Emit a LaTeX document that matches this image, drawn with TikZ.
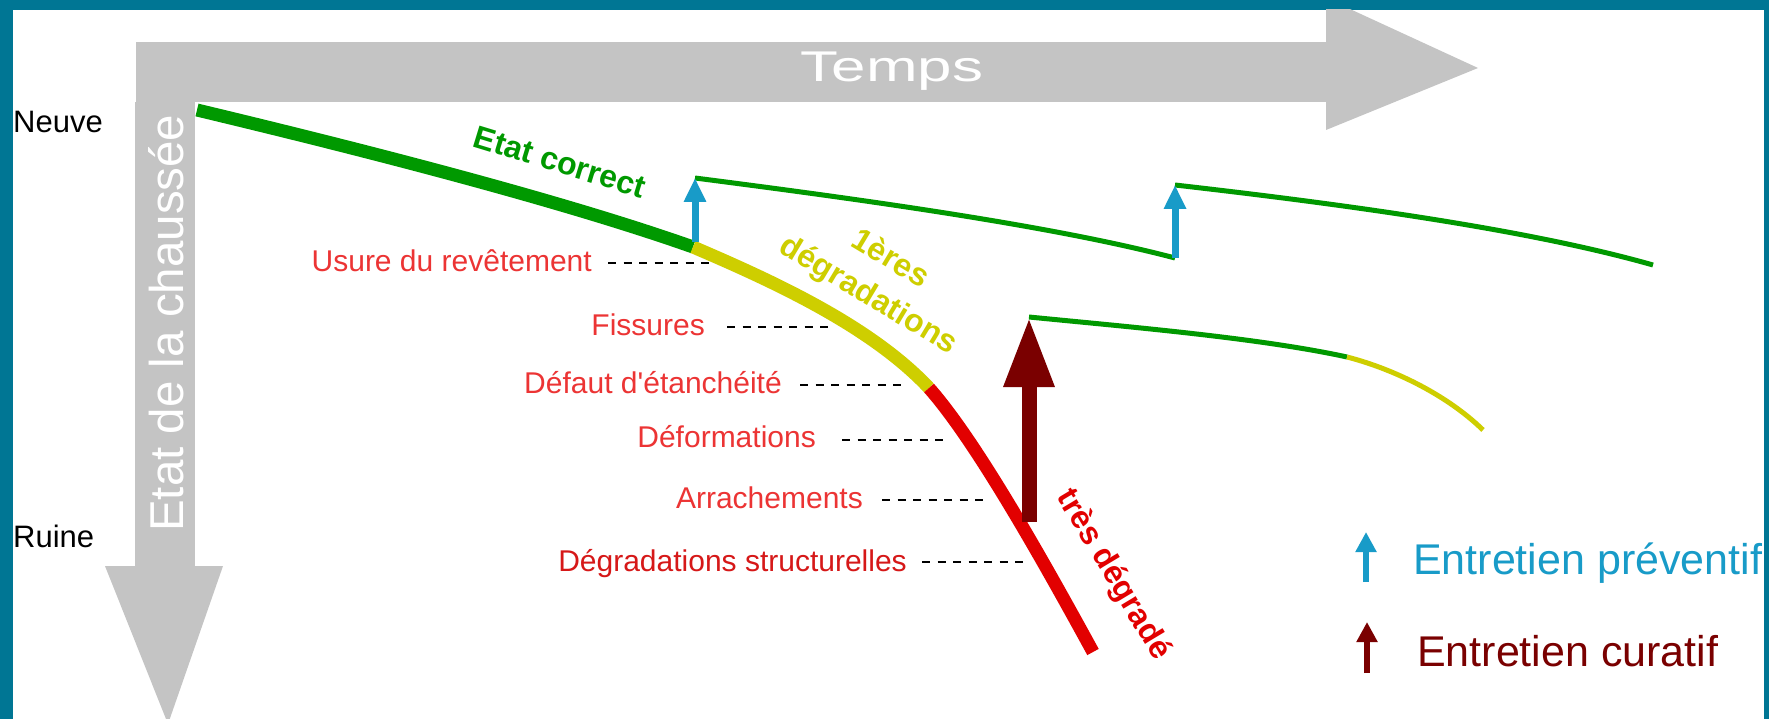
\documentclass[tikz,border=0pt]{standalone}
\usepackage{fontspec}
\setmainfont{Liberation Sans}[Ligatures=TeXOff]
\usetikzlibrary{arrows.meta}
\definecolor{teal0}{RGB}{0,118,148}
\definecolor{axisgray}{RGB}{196,196,196}
\definecolor{okgreen}{RGB}{0,153,0}
\definecolor{warnyellow}{RGB}{206,206,0}
\definecolor{badred}{RGB}{226,0,0}
\definecolor{lblred}{RGB}{236,52,52}
\definecolor{lblredb}{RGB}{214,24,24}
\definecolor{prevblue}{RGB}{24,155,200}
\definecolor{curbrown}{RGB}{122,0,0}
\newcommand\myfs[1]{\fontsize{#1}{#1}\selectfont}
\begin{document}
\begin{tikzpicture}[x=1pt,y=-1pt,
  lbl/.style={text=lblred, font=\myfs{30}, inner sep=0pt, anchor=base east},
  leader/.style={draw=black, line width=2.5pt, dash pattern=on 8pt off 7.5pt},
  thickcurve/.style={line width=13pt},
  thincurve/.style={line width=5pt},
  prevarrow/.style={draw=prevblue, line width=7pt, -{Triangle[width=21pt,length=24pt]}},
  curarrow/.style={draw=curbrown, line width=15pt, -{Triangle[width=47pt,length=70pt]}},
  legprev/.style={draw=prevblue, line width=6pt, -{Triangle[width=20pt,length=20pt]}},
  legcur/.style={draw=curbrown, line width=6pt, -{Triangle[width=20pt,length=20pt]}},
  plain/.style={inner sep=0pt}
]
\useasboundingbox (0,0) rectangle (1769,719);
\fill[teal0] (0,0) rectangle (1769,719);
\fill[white] (13,10) rectangle (1764,719);

% axes
\begin{scope}
\clip (13,10) rectangle (1764,719);
\fill[axisgray] (136,42) rectangle (1328,102);
\fill[axisgray] (1326,-2) -- (1478,68) -- (1326,130) -- cycle;
\fill[axisgray] (135,102) rectangle (195,568);
\fill[axisgray] (105,566) -- (223,566) -- (168,724) -- cycle;
\end{scope}
\node[plain, text=white, font=\myfs{43}, xscale=1.44, anchor=base] (temps) at (892,82) {Temps};
\node[plain, text=white, font=\myfs{47.5}, rotate=90, anchor=base west] (etat) at (183,532) {Etat de la chaussée};
\node[plain, font=\myfs{31}, anchor=base west] (neuve) at (13,133) {Neuve};
\node[plain, font=\myfs{31}, anchor=base west] (ruine) at (13,547) {Ruine};

% labels and leaders
\node[lbl] (l1) at (592,272) {Usure du revêtement};
\node[lbl] (l2) at (705,335) {Fissures};
\node[lbl] (l3) at (782,393) {Défaut d'étanchéité};
\node[lbl] (l4) at (816,447) {Déformations};
\node[lbl] (l5) at (863,508) {Arrachements};
\node[lbl, text=lblredb] (l6) at (907,571) {Dégradations structurelles};
\coordinate (e1) at (715,263);
\coordinate (e2) at (832,327);
\coordinate (e3) at (907,385);
\coordinate (e4) at (948,440);
\coordinate (e5) at (988,500);
\coordinate (e6) at (1028,562);
\draw[leader] (l1.base east) ++(16,-9) -- (e1);
\draw[leader] (l2.base east) ++(22,-8) -- (e2);
\draw[leader] (l3.base east) ++(18,-8) -- (e3);
\draw[leader] (l4.base east) ++(26,-7) -- (e4);
\draw[leader] (l5.base east) ++(19,-8) -- (e5);
\draw[leader] (l6.base east) ++(15,-9) -- (e6);

% main degradation curve
\coordinate (c0) at (197,110);
\coordinate (c1) at (693,247);
\coordinate (c2) at (929,388);
\coordinate (c3) at (1093,652);
\draw[okgreen, thickcurve] (c0) .. controls (360,149) and (560,200) .. (c1);
\draw[warnyellow, thickcurve] (c1) .. controls (770,280) and (870,325) .. (c2);
\draw[badred, thickcurve] (c2) .. controls (975,440) and (1040,555) .. (c3);

% preventive maintenance branch
\coordinate (b1s) at (695,242);
\coordinate (b1t) at (695,178);
\coordinate (g1e) at (1175,258);
\coordinate (b2t) at (1175,185);
\coordinate (g2e) at (1653,265);
\draw[okgreen, thincurve] (b1t) .. controls (850,198) and (1050,225) .. (g1e);
\draw[okgreen, thincurve] (b2t) .. controls (1350,205) and (1530,230) .. (g2e);
\draw[prevarrow] (b1s) -- (b1t);
\draw[prevarrow] (g1e) -- (b2t);

% curative maintenance branch
\coordinate (k1s) at (1029,522);
\coordinate (k1t) at (1029,317);
\coordinate (g3e) at (1347,357);
\coordinate (y3e) at (1483,430);
\draw[okgreen, thincurve] (k1t) .. controls (1130,327) and (1260,338) .. (g3e);
\draw[warnyellow, thincurve] (g3e) .. controls (1390,368) and (1445,393) .. (y3e);
\draw[curarrow] (k1s) -- (k1t);

% state texts
\node[plain, text=okgreen, font=\myfs{32}\bfseries, rotate=-17] (tok) at (560,162) {Etat correct};
\node[plain, text=warnyellow, font=\myfs{32}\bfseries, rotate=-31, align=center] (tdeg) at (879,278) {1ères\\[10pt]dégradations};
\node[plain, text=badred, font=\myfs{32}\bfseries, rotate=-59] (tbad) at (1113,575) {très dégradé};

% legend
\coordinate (lp1) at (1366,582);
\coordinate (lp2) at (1366,532);
\coordinate (lc1) at (1367,673);
\coordinate (lc2) at (1367,622);
\draw[legprev] (lp1) -- (lp2);
\draw[legcur] (lc1) -- (lc2);
\node[plain, text=prevblue, font=\myfs{43}, anchor=base west] (legp) at (1413,574) {Entretien préventif};
\node[plain, text=curbrown, font=\myfs{43}, anchor=base west] (legc) at (1417,666) {Entretien curatif};
\end{tikzpicture}
\end{document}
